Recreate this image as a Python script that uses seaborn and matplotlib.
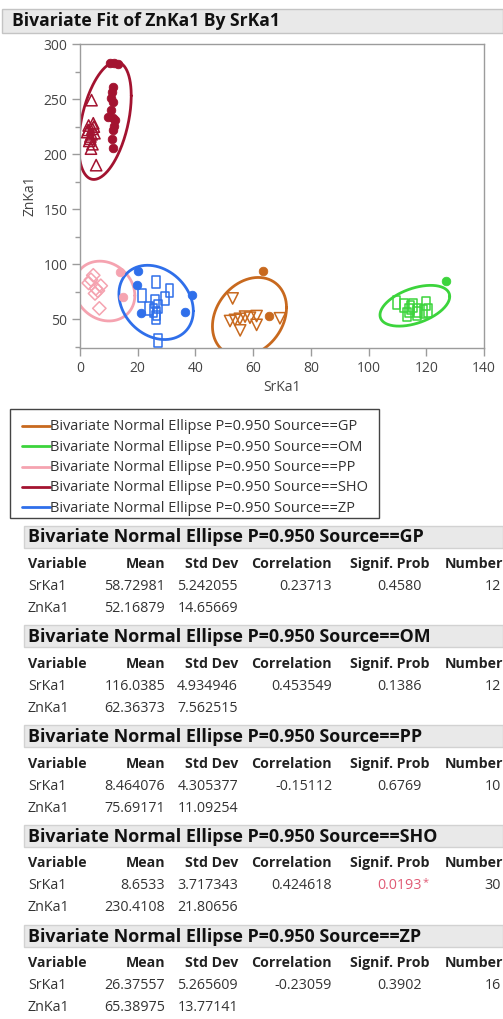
import numpy as np
import pandas as pd
import matplotlib
matplotlib.use("Agg")
import matplotlib.pyplot as plt
from matplotlib.patches import Rectangle
from matplotlib.lines import Line2D
from matplotlib.path import Path
import seaborn as sns

# ---- summary statistics per source ----
sources = ["GP", "OM", "PP", "SHO", "ZP"]
colors = ["#C8691E", "#3CD43C", "#F5A3B0", "#A31330", "#2F6FEA"]
sr_mean = [58.72981, 116.0385, 8.464076, 8.6533, 26.37557]
sr_sd = [5.242055, 4.934946, 4.305377, 3.717343, 5.265609]
zn_mean = [52.16879, 62.36373, 75.69171, 230.4108, 65.38975]
zn_sd = [14.65669, 7.562515, 11.09254, 21.80656, 13.77141]
corr = [0.23713, 0.453549, -0.15112, 0.424618, -0.23059]
signif = [0.4580, 0.1386, 0.6769, 0.0193, 0.3902]
counts = [12, 12, 10, 30, 16]

# ---- individual measurements (SrKa1, ZnKa1, marker kind) ----
gp_sr = [63.5, 65.6, 52.9, 52.0, 53.7, 55.4, 57.2, 58.9, 61.2, 61.2, 55.5, 69.3]
gp_zn = [94.0, 53.5, 69.0, 48.5, 49.5, 50.5, 52.5, 51.5, 53.0, 45.0, 40.0, 51.0]
gp_mk = ["dot", "dot", "tri_down", "tri_down", "tri_down", "tri_down", "tri_down",
         "tri_down", "tri_down", "tri_down", "tri_down", "tri_down"]

om_sr = [127.0, 109.7, 112.3, 114.1, 115.5, 117.2, 119.9, 120.7, 113.2, 116.7, 119.0, 114.5]
om_zn = [85.0, 65.4, 62.4, 58.4, 62.4, 58.4, 64.5, 58.4, 54.5, 55.0, 57.0, 60.5]
om_mk = ["dot"] + ["rect"] * 11

pp_sr = [4.6, 3.8, 7.2, 5.5, 5.2, 6.7, 3.0, 6.2, 13.9, 15.0]
pp_zn = [90.0, 86.0, 80.5, 78.0, 73.5, 60.0, 83.0, 76.0, 93.0, 70.0]
pp_mk = ["diamond"] * 8 + ["dot"] * 2

sho_sr = [10.3, 11.8, 13.0, 11.3, 11.0, 10.6, 11.5, 10.6, 9.8, 11.3, 12.3, 11.8, 11.6, 11.0, 11.3,
          4.0, 3.0, 4.3, 2.5, 5.0, 3.6, 4.6, 3.2, 4.3, 3.8, 5.6, 2.8, 4.0, 3.5, 4.8]
sho_zn = [283, 283, 282, 261, 256, 251, 247, 240, 234, 233, 231, 226, 222, 214, 206,
          249, 226, 223, 220, 219, 216, 228, 212, 209, 205, 190, 222, 218, 214, 225]
sho_mk = ["dot"] * 15 + ["tri_up"] * 15

zp_sr = [20.2, 19.6, 38.7, 21.0, 36.4, 26.3, 31.0, 21.4, 29.5, 26.0, 27.0, 25.5, 26.5, 26.3, 24.0, 27.0]
zp_zn = [93.5, 81.0, 72.0, 56.0, 57.0, 84.0, 76.5, 72.0, 69.0, 66.0, 62.0, 58.0, 55.0, 52.0, 60.0, 31.0]
zp_mk = ["dot"] * 5 + ["rect"] * 11

frames = []
for src, xs, ys, ms in [("GP", gp_sr, gp_zn, gp_mk), ("OM", om_sr, om_zn, om_mk),
                        ("PP", pp_sr, pp_zn, pp_mk), ("SHO", sho_sr, sho_zn, sho_mk),
                        ("ZP", zp_sr, zp_zn, zp_mk)]:
    frames.append(pd.DataFrame({"Source": src, "SrKa1": xs, "ZnKa1": ys, "kind": ms}))
points = pd.concat(frames, ignore_index=True)

# ---- figure geometry helpers (pixel -> figure fraction) ----
W, H = 503, 1019
FONT = ["Open Sans", "DejaVu Sans"]
sns.set_style("white")
plt.rcParams["font.family"] = FONT

fig = plt.figure(figsize=(W / 100, H / 100), dpi=100)
fig.patch.set_facecolor("white")


def fx(px):
    return px / W


def fy(py):
    return 1 - py / H


TXT = "#333333"
GRID = "#9c9c9c"

# ---- top report header ----
fig.patches.append(Rectangle((fx(2), fy(33)), fx(503) - fx(2), fy(9) - fy(33),
                             transform=fig.transFigure, facecolor="#e9e9e9",
                             edgecolor="#c4c4c4", lw=1))
fig.text(fx(12), fy(21), "Bivariate Fit of ZnKa1 By SrKa1", fontsize=12.6,
         fontweight="bold", color="#111111", va="center", ha="left")

# ---- scatter panel ----
ax = fig.add_axes([fx(80), fy(348), fx(484) - fx(80), fy(44) - fy(348)])

rect_marker = Path([(-0.3, -0.5), (0.3, -0.5), (0.3, 0.5), (-0.3, 0.5), (-0.3, -0.5)],
                   [Path.MOVETO, Path.LINETO, Path.LINETO, Path.LINETO, Path.CLOSEPOLY])
marker_defs = {
    "dot": dict(marker="o", s=38, filled=True),
    "tri_down": dict(marker="v", s=66, filled=False),
    "tri_up": dict(marker="^", s=66, filled=False),
    "diamond": dict(marker="D", s=46, filled=False),
    "rect": dict(marker=rect_marker, s=85, filled=False),
}

chi = np.sqrt(-2 * np.log(1 - 0.95))
theta = np.linspace(0, 2 * np.pi, 240)
for i, src in enumerate(sources):
    c = colors[i]
    sub = points[points["Source"] == src]
    for kind, grp in sub.groupby("kind"):
        md = marker_defs[kind]
        if md["filled"]:
            sns.scatterplot(data=grp, x="SrKa1", y="ZnKa1", color=c, marker=md["marker"],
                            s=md["s"], edgecolor=c, linewidth=0.6, ax=ax, legend=False, zorder=3)
        else:
            sns.scatterplot(data=grp, x="SrKa1", y="ZnKa1", color=c, marker=md["marker"],
                            s=md["s"], facecolor="none", edgecolor=c, linewidth=1.1,
                            ax=ax, legend=False, zorder=3)
    # 95% bivariate normal density ellipse
    cov = np.array([[sr_sd[i] ** 2, corr[i] * sr_sd[i] * zn_sd[i]],
                    [corr[i] * sr_sd[i] * zn_sd[i], zn_sd[i] ** 2]])
    L = np.linalg.cholesky(cov)
    ell = np.array([sr_mean[i], zn_mean[i]])[:, None] + chi * L @ np.vstack([np.cos(theta), np.sin(theta)])
    sns.lineplot(x=ell[0], y=ell[1], sort=False, estimator=None, color=c, lw=2.0,
                 ax=ax, legend=False, zorder=2)

ax.set_xlim(0, 140)
ax.set_ylim(24, 300)
ax.set_xticks(np.arange(0, 141, 20))
ax.set_yticks(np.arange(50, 301, 50))
ax.set_yticks(np.arange(25, 300, 50), minor=True)
for sp in ax.spines.values():
    sp.set_color(GRID)
    sp.set_linewidth(1.0)
    sp.set_visible(True)
ax.tick_params(axis="both", which="major", direction="out", length=6, width=1,
               color=GRID, labelsize=10, labelcolor="#444444", pad=3)
ax.tick_params(axis="y", which="minor", direction="out", length=3.5, width=1,
               color=GRID, left=True)
ax.tick_params(axis="both", which="both", bottom=True, left=True)
ax.set_xlabel("SrKa1", fontsize=10, color="#444444", labelpad=3)
ax.set_ylabel("ZnKa1", fontsize=10, color="#444444", labelpad=4)
ax.grid(False)

# ---- legend for the ellipses ----
fig.patches.append(Rectangle((fx(10), fy(518)), fx(379) - fx(10), fy(409) - fy(518),
                             transform=fig.transFigure, facecolor="white",
                             edgecolor="#444444", lw=1))
for i, src in enumerate(sources):
    yy = 426 + i * 20.3
    fig.lines.append(Line2D([fx(22), fx(50)], [fy(yy), fy(yy)], color=colors[i], lw=2,
                            transform=fig.transFigure))
    fig.text(fx(50), fy(yy + 4.5), f"Bivariate Normal Ellipse P=0.950 Source=={src}",
             fontsize=10.5, color=TXT, va="baseline", ha="left")

# ---- statistic tables ----
col_right = {"Mean": 165, "Std Dev": 238, "Correlation": 332, "Signif. Prob": 430, "Number": 503}


def fmt(v):
    return f"{v:.7g}"


def cell(px, py, s, bold=False, color=TXT, ha="right", size=10.3):
    # py is the visual row centre; text sits on a shared baseline
    fig.text(fx(px), fy(py + 4.5), s, fontsize=size, color=color, va="baseline", ha=ha,
             fontweight="bold" if bold else "normal")


for i, src in enumerate(sources):
    top = 525.5 + i * 99.8
    fig.patches.append(Rectangle((fx(24), fy(top + 22)), fx(503) - fx(24), fy(top) - fy(top + 22),
                                 transform=fig.transFigure, facecolor="#e9e9e9",
                                 edgecolor="#d2d2d2", lw=1))
    fig.text(fx(28), fy(top + 17), f"Bivariate Normal Ellipse P=0.950 Source=={src}",
             fontsize=12.9, fontweight="bold", color="#111111", va="baseline", ha="left")
    hy, r1, r2 = top + 38, top + 60, top + 82
    cell(28, hy, "Variable", bold=True, color="#222222", ha="left", size=10.2)
    for name, xr in col_right.items():
        cell(xr, hy, name, bold=True, color="#222222", size=10.2)
    cell(28, r1, "SrKa1", ha="left")
    cell(28, r2, "ZnKa1", ha="left")
    cell(165, r1, fmt(sr_mean[i]))
    cell(165, r2, fmt(zn_mean[i]))
    cell(238, r1, fmt(sr_sd[i]))
    cell(238, r2, fmt(zn_sd[i]))
    cell(332, r1, fmt(corr[i]))
    sig = signif[i] < 0.05
    pcol = "#E05A74" if sig else TXT
    cell(422, r1, f"{signif[i]:.4f}", color=pcol)
    if sig:
        cell(423, r1 - 4, "*", color=pcol, ha="left", size=8)
    cell(501, r1, str(counts[i]))

fig.savefig("out.png", dpi=100, facecolor="white")
